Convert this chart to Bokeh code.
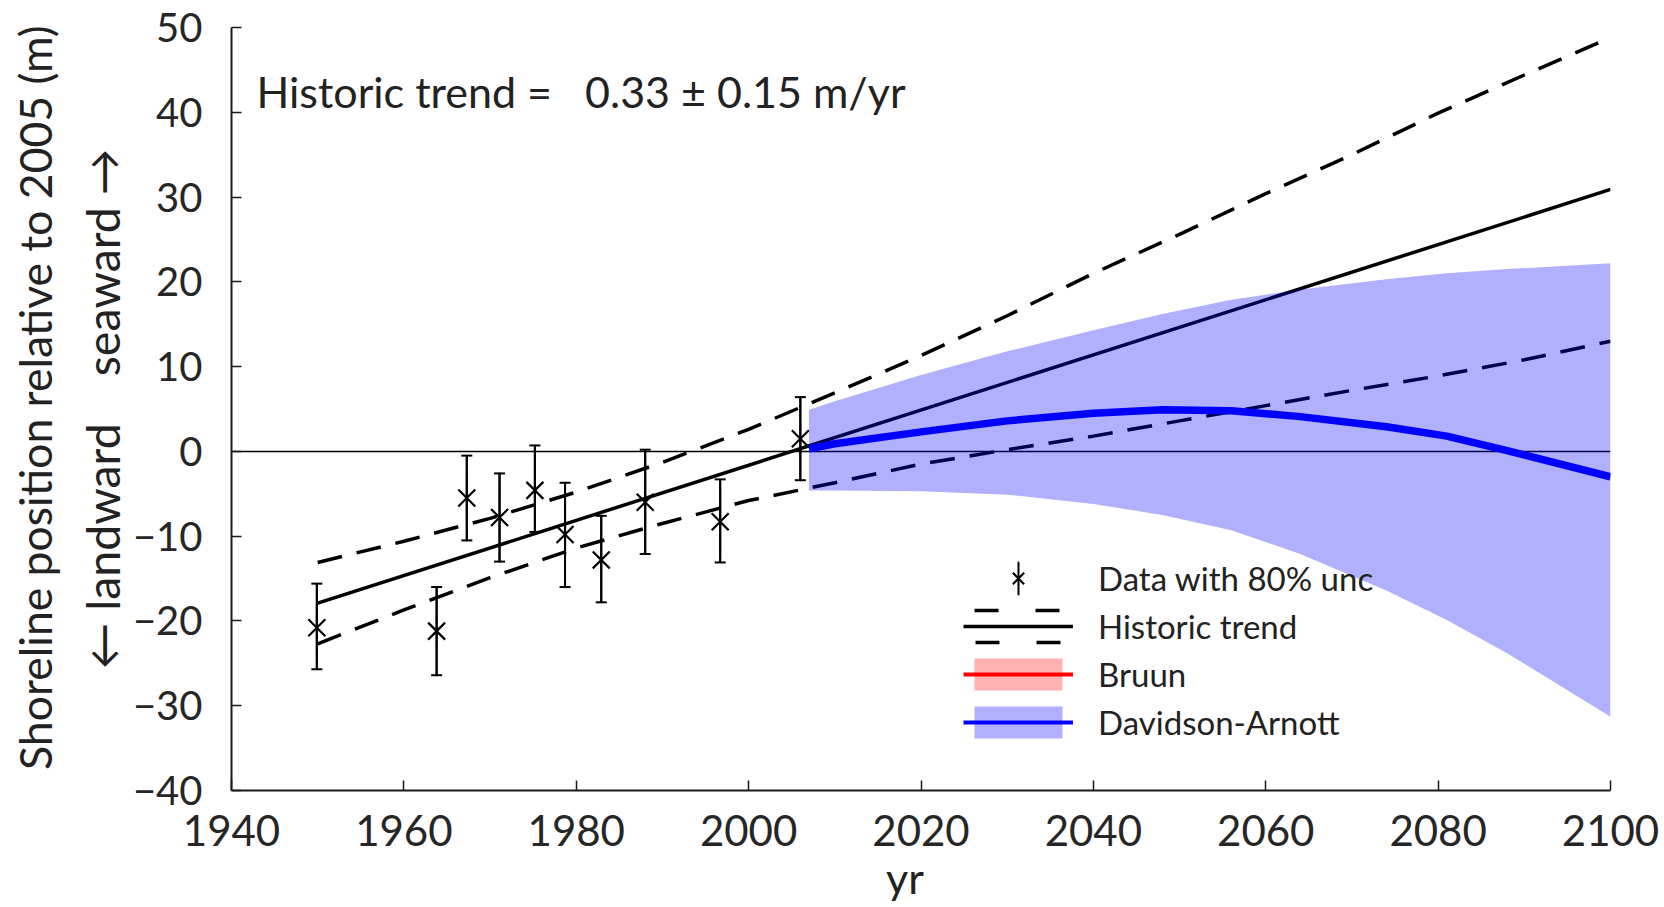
from bokeh.plotting import figure
from bokeh.models import (Range1d, FixedTicker, Whisker, TeeHead, ColumnDataSource, Span,
                          Label, Legend, LegendItem, CustomJSTickFormatter, LinearAxis)
from bokeh.embed import file_html
from bokeh.resources import INLINE

# ---------------- data ----------------
obs_year = [1949.9, 1963.8, 1967.3, 1971.1, 1975.2, 1978.7, 1982.9, 1988.0, 1996.7, 2006.0]
obs_pos = [-20.8, -21.2, -5.5, -7.8, -4.6, -9.8, -12.8, -6.0, -8.3, 1.5]
obs_hi = [-15.6, -16.0, -0.5, -2.6, 0.7, -3.7, -7.6, 0.2, -3.3, 6.4]
obs_lo = [-25.7, -26.4, -10.5, -13.0, -9.5, -16.0, -17.8, -12.1, -13.1, -3.4]

trend_year = [1950, 2100]
trend_pos = [-17.9, 30.9]

band_year = [1950, 1960, 1970, 1980, 1990, 2000, 2010, 2020, 2030, 2040, 2050, 2060, 2070, 2080, 2090, 2100]
trend_hi = [-13.1, -10.6, -7.9, -4.8, -1.3, 2.6, 6.9, 11.3, 16.0, 21.0, 25.6, 30.4, 35.0, 39.9, 44.4, 48.8]
trend_lo = [-22.7, -18.7, -14.9, -11.4, -8.5, -5.8, -3.7, -1.5, 0.2, 1.8, 3.6, 5.4, 7.2, 8.9, 10.8, 13.0]

da_year = [2007, 2010, 2020, 2030, 2040, 2048, 2056, 2064, 2074, 2081, 2088, 2100]
da_mid = [0.3, 0.9, 2.3, 3.6, 4.5, 4.9, 4.8, 4.1, 2.9, 1.8, 0.1, -3.0]
da_hi = [4.9, 5.9, 9.0, 11.8, 14.3, 16.2, 17.9, 19.1, 20.3, 21.0, 21.5, 22.2]
da_lo = [-4.6, -4.6, -4.7, -5.1, -6.2, -7.5, -9.3, -12.1, -16.4, -19.9, -23.8, -31.3]

x_ticks = [1940, 1960, 1980, 2000, 2020, 2040, 2060, 2080, 2100]
y_ticks = [-40, -30, -20, -10, 0, 10, 20, 30, 40, 50]

FONT = "Lato"
TXT = "#222222"
NB = "\u00a0"

p = figure(width=1664, height=907, x_range=Range1d(1940, 2100), y_range=Range1d(-40, 50),
           output_backend="svg", toolbar_location=None,
           min_border_left=231, min_border_right=54, min_border_top=27, min_border_bottom=117)
p.outline_line_color = None
p.xgrid.visible = False
p.ygrid.visible = False

for ax in (p.xaxis[0], p.yaxis[0]):
    ax.axis_line_width = 2
    ax.axis_line_color = "#1a1a1a"
    ax.major_tick_in = 10
    ax.major_tick_out = 0
    ax.major_tick_line_width = 1.5
    ax.major_tick_line_color = "#1a1a1a"
    ax.minor_tick_line_color = None
    ax.major_label_text_font = FONT
    ax.major_label_text_color = "#262626"
    ax.axis_label_text_font = FONT
    ax.axis_label_text_color = TXT
    ax.axis_label_text_font_style = "normal"

p.xaxis.ticker = FixedTicker(ticks=x_ticks)
p.yaxis.ticker = FixedTicker(ticks=y_ticks)
p.xaxis.major_label_text_font_size = "42px"
p.yaxis.major_label_text_font_size = "40px"
p.xaxis.major_label_standoff = 24
p.yaxis.major_label_standoff = 29
p.yaxis.formatter = CustomJSTickFormatter(
    code="return tick < 0 ? '\\u2212' + Math.abs(tick) : String(tick)")

# inner y label line
p.yaxis.axis_label = "\u2190 landward \u2002 seaward \u2192"
p.yaxis.axis_label_text_font_size = "46.5px"
p.yaxis.axis_label_standoff = 0

# outer y label line (label-only axis)
outer = LinearAxis(ticker=FixedTicker(ticks=[]), axis_line_color=None, major_tick_line_color=None,
                   minor_tick_line_color=None, major_label_text_font_size="0px",
                   major_label_standoff=0,
                   axis_label=NB + NB + "Shoreline position relative to 2005 (m)",
                   axis_label_text_font=FONT, axis_label_text_font_size="44.5px",
                   axis_label_text_color=TXT, axis_label_text_font_style="normal",
                   axis_label_standoff=10)
p.add_layout(outer, "left")

# x label (label-only axis)
xlab = LinearAxis(ticker=FixedTicker(ticks=[]), axis_line_color=None, major_tick_line_color=None,
                  minor_tick_line_color=None, major_label_text_font_size="0px",
                  major_label_standoff=0, axis_label="yr" + NB + NB + NB,
                  axis_label_text_font=FONT, axis_label_text_font_size="43px",
                  axis_label_text_color=TXT, axis_label_text_font_style="normal",
                  axis_label_standoff=3)
p.add_layout(xlab, "below")

# zero line
p.add_layout(Span(location=0, dimension="width", line_color="black", line_width=1.5, level="underlay"))

# historic trend
r_trend = p.line(trend_year, trend_pos, line_color="black", line_width=3.5)
p.line(band_year, trend_hi, line_color="black", line_width=3.5, line_dash="25 15")
p.line(band_year, trend_lo, line_color="black", line_width=3.5, line_dash="25 15")

# observations with uncertainty
src = ColumnDataSource(dict(x=obs_year, y=obs_pos, hi=obs_hi, lo=obs_lo,
                            mid=[(h + l) / 2 for h, l in zip(obs_hi, obs_lo)],
                            span=[h - l for h, l in zip(obs_hi, obs_lo)]))
# vertical uncertainty bars as very thin ellipses (also gives the legend's vertical bar)
r_bar = p.ellipse(x="x", y="mid", width=0.02, height="span", source=src, fill_alpha=0,
                  line_color="black", line_width=2)
wh = Whisker(source=src, base="x", upper="hi", lower="lo", line_color="black", line_width=2,
             upper_head=TeeHead(size=11, line_width=2, line_color="black"),
             lower_head=TeeHead(size=11, line_width=2, line_color="black"))
p.add_layout(wh)
r_obs = p.scatter("x", "y", source=src, marker="x", size=24, line_color="black", line_width=2.2)

# Davidson-Arnott projection
r_da_band = p.varea(x=da_year, y1=da_lo, y2=da_hi, fill_color="blue", fill_alpha=0.31)
p.line(da_year, da_mid, line_color="blue", line_width=7.5)

# legend-only (hidden) renderers
leg_dash = p.quad(left=trend_year[:1], right=trend_year[1:], bottom=trend_pos[:1],
                  top=trend_pos[1:], fill_alpha=0, line_color="black", line_width=3.5,
                  line_dash="24 37", visible=False)
leg_bruun_band = p.varea(x=da_year, y1=da_lo, y2=da_hi, fill_color="red", fill_alpha=0.3,
                         visible=False)
leg_bruun_line = p.line(da_year, da_mid, line_color="red", line_width=4, visible=False)
leg_da_line = p.line(da_year, da_mid, line_color="blue", line_width=4, visible=False)

legend = Legend(items=[
    LegendItem(label="Data with 80% unc", renderers=[r_bar, r_obs]),
    LegendItem(label="Historic trend", renderers=[leg_dash, r_trend]),
    LegendItem(label="Bruun", renderers=[leg_bruun_band, leg_bruun_line]),
    LegendItem(label="Davidson-Arnott", renderers=[r_da_band, leg_da_line]),
], location=(732, 48), glyph_width=110, glyph_height=40, label_standoff=25, spacing=8,
    padding=0, margin=0, border_line_color=None, background_fill_alpha=0,
    inactive_fill_alpha=0,
    label_text_font=FONT, label_text_font_size="33px", label_text_color=TXT)
p.add_layout(legend)

p.add_layout(Label(x=25, y=699, x_units="screen", y_units="screen",
                   text="Historic trend =" + NB * 3 + "0.33 \u00b1 0.15 m/yr", text_font=FONT,
                   text_font_size="43px", text_color=TXT, text_align="left",
                   text_baseline="alphabetic"))

open("out.html", "w").write(file_html(p, INLINE))
